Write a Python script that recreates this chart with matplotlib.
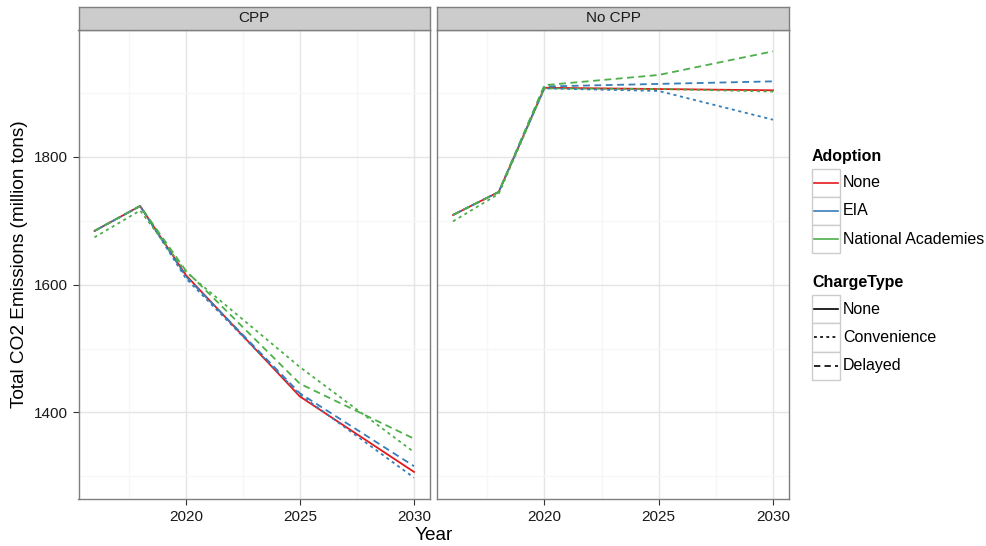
import matplotlib.pyplot as plt
from matplotlib.patches import Rectangle

plt.rcParams['font.family'] = ['Liberation Sans', 'DejaVu Sans']

# data
years = [2016, 2018, 2020, 2025, 2030]
panels = ["CPP", "No CPP"]
adoption_levels = ["None", "EIA", "National Academies"]
charge_levels = ["None", "Convenience", "Delayed"]

cpp_none = [1684, 1723, 1615, 1425, 1307]
cpp_eia_conv = [1684, 1723, 1610, 1428, 1298]
cpp_eia_delay = [1684, 1723, 1613, 1430, 1316]
cpp_na_conv = [1674, 1716, 1620, 1471, 1338]
cpp_na_delay = [1684, 1723, 1622, 1445, 1359]

nocpp_none = [1709, 1745, 1908, 1906, 1904]
nocpp_eia_conv = [1709, 1745, 1907, 1903, 1858]
nocpp_eia_delay = [1709, 1745, 1910, 1914, 1918]
nocpp_na_conv = [1699, 1742, 1907, 1906, 1902]
nocpp_na_delay = [1709, 1745, 1912, 1928, 1965]

series = {
    "CPP": [("None", "None", cpp_none),
            ("EIA", "Convenience", cpp_eia_conv),
            ("EIA", "Delayed", cpp_eia_delay),
            ("National Academies", "Convenience", cpp_na_conv),
            ("National Academies", "Delayed", cpp_na_delay)],
    "No CPP": [("None", "None", nocpp_none),
               ("EIA", "Convenience", nocpp_eia_conv),
               ("EIA", "Delayed", nocpp_eia_delay),
               ("National Academies", "Convenience", nocpp_na_conv),
               ("National Academies", "Delayed", nocpp_na_delay)],
}

colors = {"None": "#E41A1C", "EIA": "#377EB8", "National Academies": "#4DAF4A"}
dashes = {"None": (None, None), "Convenience": (1.7, 2.0), "Delayed": (3.8, 2.5)}

W, H = 986, 546
fig = plt.figure(figsize=(W / 100, H / 100), dpi=100)

# panel boxes in pixels (left, right)
panel_px = [(78.5, 430), (437, 789)]
top_px, bot_px = 30, 499
strip_top = 6.5

all_vals = [v for p in panels for _, _, vals in series[p] for v in vals]
vmin, vmax = min(all_vals), max(all_vals)
ypad = 0.05 * (vmax - vmin)
xpad = 0.05 * (years[-1] - years[0])

for i, (name, (x0, x1)) in enumerate(zip(panels, panel_px)):
    ax = fig.add_axes([x0 / W, (H - bot_px) / H, (x1 - x0) / W, (bot_px - top_px) / H])
    for adopt, charge, vals in series[name]:
        line, = ax.plot(years, vals, color=colors[adopt], lw=1.3, zorder=3)
        if charge != "None":
            line.set_dashes(dashes[charge])
    ax.set_xlim(years[0] - xpad, years[-1] + xpad)
    ax.set_ylim(vmin - ypad, vmax + ypad)
    ax.set_xticks([2020, 2025, 2030])
    ax.set_xticks([2017.5, 2022.5, 2027.5], minor=True)
    ax.set_yticks([1400, 1600, 1800])
    ax.set_yticks([1300, 1500, 1700, 1900], minor=True)
    ax.grid(which='major', color='#E5E5E5', lw=1.0, zorder=0)
    ax.grid(which='minor', color='#F7F7F7', lw=1.0, zorder=0)
    ax.set_axisbelow(True)
    for sp in ax.spines.values():
        sp.set_color('#7F7F7F')
        sp.set_linewidth(1.0)
    ax.tick_params(which='minor', length=0)
    ax.tick_params(which='major', length=4, width=0.8, color='#333333',
                   labelsize=11, labelcolor='#1a1a1a', pad=4)
    if i > 0:
        ax.tick_params(axis='y', left=False, labelleft=False)

    # facet strip
    sax = fig.add_axes([x0 / W, (H - top_px) / H, (x1 - x0) / W, (top_px - strip_top) / H])
    sax.set_facecolor('#CCCCCC')
    sax.set_xticks([])
    sax.set_yticks([])
    for sp in sax.spines.values():
        sp.set_color('#7F7F7F')
        sp.set_linewidth(1.0)
    sax.text(0.5, 0.5, name, ha='center', va='center', fontsize=11, color='#1a1a1a',
             transform=sax.transAxes)

fig.text(434 / W, 1 - 535 / H, "Year", ha='center', va='center', fontsize=13.7)
fig.text(20 / W, 1 - 264 / H, "Total CO2 Emissions (million tons)", ha='center',
         va='center', rotation=90, fontsize=13.7)

# legends drawn on an overlay in pixel coordinates
leg = fig.add_axes([0, 0, 1, 1])
leg.set_xlim(0, W)
leg.set_ylim(H, 0)
leg.axis('off')
leg.patch.set_visible(False)

key_w, key_h = 28, 28.3


def draw_legend(title, title_y, box_top, labels, styles):
    leg.text(812, title_y, title, fontsize=11.5, fontweight='bold', va='center', ha='left')
    for j, (lab, (col, dsh)) in enumerate(zip(labels, styles)):
        top = box_top + j * key_h
        leg.add_patch(Rectangle((812, top), key_w, key_h, fc='white', ec='#CCCCCC', lw=1.0))
        ln, = leg.plot([814, 838], [top + key_h / 2] * 2, color=col, lw=1.2)
        if dsh[0] is not None:
            ln.set_dashes(dsh)
        leg.text(843, top + key_h / 2, lab, fontsize=11.5, va='center', ha='left')


draw_legend("Adoption", 157, 168.5, adoption_levels,
            [(colors[a], dashes["None"]) for a in adoption_levels])
draw_legend("ChargeType", 283, 295, charge_levels,
            [("black", dashes[c]) for c in charge_levels])

fig.savefig("out.png", dpi=100)
